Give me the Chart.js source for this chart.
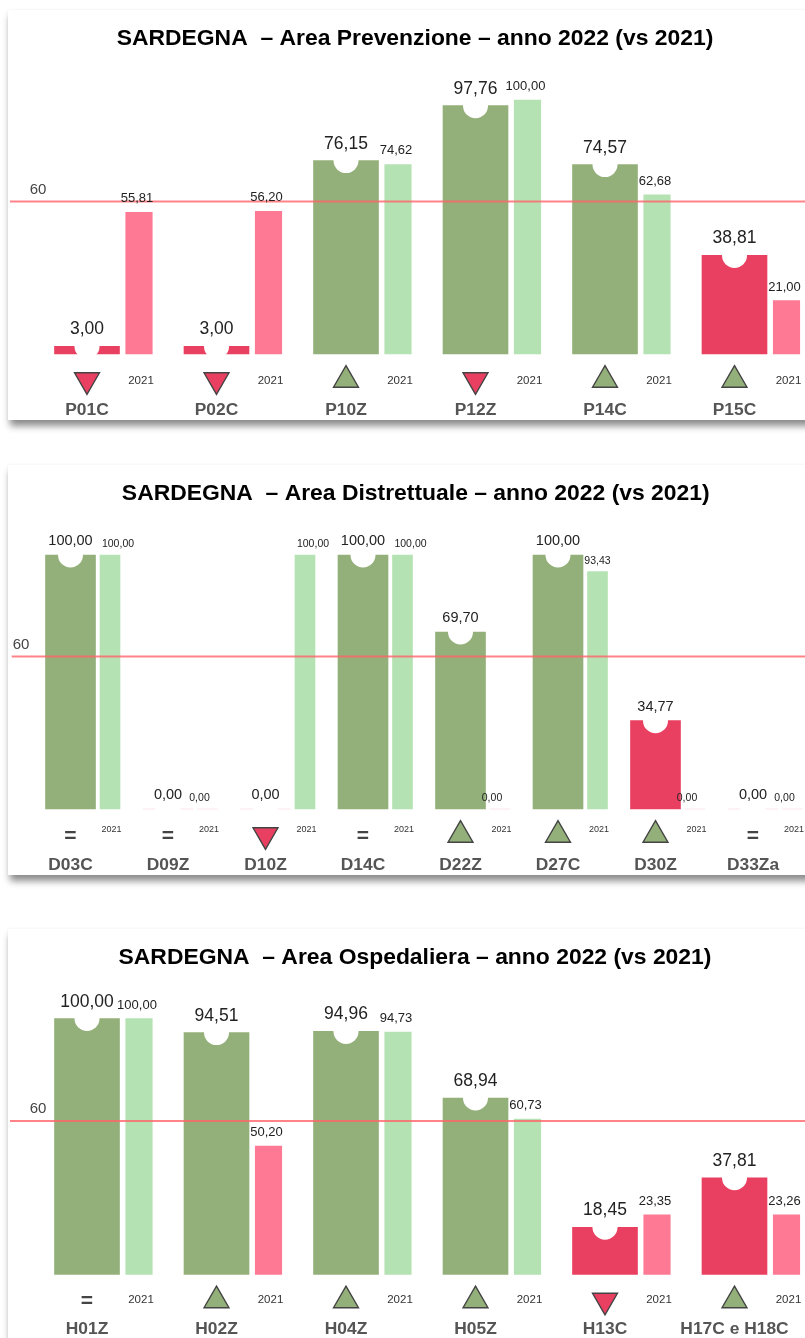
<!DOCTYPE html>
<html lang="it">
<head>
<meta charset="utf-8">
<title>SARDEGNA</title>
<script src="https://cdn.jsdelivr.net/npm/chart.js@4/dist/chart.umd.min.js"></script>
<style>
html,body{margin:0;padding:0;background:#fff;width:805px;height:1338px;overflow:hidden;}
.card{position:absolute;left:8px;width:812px;height:410px;background:#fff;box-shadow:2px 6px 7px rgba(0,0,0,.45),0 0 3px rgba(0,0,0,.04);}
canvas{display:block;}
</style>
</head>
<body>
<div class="card" style="top:10px"><canvas id="c1" width="812" height="410"></canvas></div>
<div class="card" style="top:465px"><canvas id="c2" width="812" height="410"></canvas></div>
<div class="card" style="top:929px"><canvas id="c3" width="812" height="410"></canvas></div>
<script>
const threshold = 60;
const thresholdLabel = "60";
const prevYearLabel = "2021";

const prevCategories = ["P01C","P02C","P10Z","P12Z","P14C","P15C"];
const prevValues2022 = [3.00,3.00,76.15,97.76,74.57,38.81];
const prevValues2021 = [55.81,56.20,74.62,100.00,62.68,21.00];
const prevTrend = ["down","down","up","down","up","up"];

const distCategories = ["D03C","D09Z","D10Z","D14C","D22Z","D27C","D30Z","D33Za"];
const distValues2022 = [100.00,0.00,0.00,100.00,69.70,100.00,34.77,0.00];
const distValues2021 = [100.00,0.00,100.00,100.00,0.00,93.43,0.00,0.00];
const distTrend = ["same","same","down","same","up","up","up","same"];

const ospCategories = ["H01Z","H02Z","H04Z","H05Z","H13C","H17C e H18C"];
const ospValues2022 = [100.00,94.51,94.96,68.94,18.45,37.81];
const ospValues2021 = [100.00,50.20,94.73,60.73,23.35,23.26];
const ospTrend = ["same","up","up","up","down","up"];

const FONT = '"Liberation Sans", Arial, sans-serif';
const GREEN = "#94B07A", LIGHT_GREEN = "#B5E2B2", RED = "#E94062", PINK = "#FE7994", FAINT = "rgba(233,64,98,.08)";
const fmt = v => v.toFixed(2).replace(".", ",");
const chartAreaTop = 50, chartAreaBottom = 389.6, markerRow = 370;

function buildPanel(id, cfg) {
  const xMin = (cfg.left - cfg.firstCenter) / cfg.spacing;
  const xMax = (812 - cfg.firstCenter) / cfg.spacing;
  const yMax = (cfg.base - chartAreaTop) / cfg.unit;
  const yMin = -(chartAreaBottom - cfg.base) / cfg.unit;
  const rowValue = -(cfg.markerY - cfg.base) / cfg.unit;
  const offset = cfg.prevOffset / cfg.spacing;

  const mainColor = v => v === 0 ? FAINT : (v >= threshold ? GREEN : RED);
  const prevColor = v => v === 0 ? FAINT : (v >= threshold ? LIGHT_GREEN : PINK);

  const annotate = {
    id: "annotate",
    afterDatasetsDraw(chart) {
      const { ctx, scales: { x, y } } = chart;
      ctx.save();
      ctx.textAlign = "center";
      ctx.textBaseline = "alphabetic";
      cfg.categories.forEach((_, i) => {
        const cx = x.getPixelForValue(i);
        ctx.fillStyle = "#222";
        ctx.font = cfg.mainFont + "px " + FONT;
        ctx.fillText(fmt(cfg.current[i]), cx, y.getPixelForValue(cfg.current[i]) - cfg.mainGap);

        const px = x.getPixelForValue(i + offset);
        ctx.font = cfg.prevFont + "px " + FONT;
        ctx.fillText(fmt(cfg.previous[i]), px + cfg.prevLabelDx(cfg.previous[i]), y.getPixelForValue(cfg.previous[i]) - cfg.prevGap);

        ctx.fillStyle = "#333";
        ctx.textBaseline = "middle";
        ctx.font = cfg.yearFont + "px " + FONT;
        ctx.fillText(prevYearLabel, cx + cfg.yearDx, cfg.yearY);

        if (cfg.trend[i] === "same") {
          ctx.fillStyle = "#444";
          ctx.font = "bold 21px " + FONT;
          ctx.fillText("=", cx, y.getPixelForValue(rowValue) + 1);
        }
        ctx.textBaseline = "alphabetic";
      });
      ctx.fillStyle = "#444";
      ctx.font = cfg.thresholdFont + "px " + FONT;
      ctx.fillText(thresholdLabel, cfg.thresholdX, y.getPixelForValue(threshold) - 8);
      ctx.restore();
    }
  };

  return new Chart(document.getElementById(id), {
    type: "bar",
    plugins: [annotate],
    data: {
      datasets: [
        { type: "line", order: 0, label: "Soglia",
          data: [{ x: xMin, y: threshold }, { x: xMax, y: threshold }],
          borderColor: "rgba(255,100,105,.8)", borderWidth: 2, pointRadius: 0, fill: false },
        { type: "scatter", order: 0, label: "Andamento",
          data: cfg.trend.map((_, i) => ({ x: i, y: rowValue })),
          pointStyle: "triangle",
          pointRadius: cfg.trend.map(t => t === "same" ? 0 : 14.4),
          pointRotation: cfg.trend.map(t => t === "down" ? 180 : 0),
          pointBackgroundColor: cfg.trend.map(t => t === "down" ? RED : GREEN),
          pointBorderColor: "#444", pointBorderWidth: 1.4 },
        { type: "scatter", order: 1, label: "Tacca",
          data: cfg.current.map((v, i) => ({ x: i, y: v })),
          pointStyle: "circle", pointRadius: 12.5,
          pointBackgroundColor: "#fff", pointBorderWidth: 0, clip: false },
        { order: 2, label: "2022", grouped: false, barThickness: cfg.mainWidth, minBarLength: 1,
          data: cfg.current.map((v, i) => ({ x: i, y: v })),
          backgroundColor: cfg.current.map(mainColor), borderWidth: 0 },
        { order: 2, label: "2021", grouped: false, barThickness: cfg.prevWidth, minBarLength: 1,
          data: cfg.previous.map((v, i) => ({ x: i + offset, y: v })),
          backgroundColor: cfg.previous.map(prevColor), borderWidth: 0 }
      ]
    },
    options: {
      responsive: false, animation: false, devicePixelRatio: 1,
      layout: { autoPadding: false, padding: { left: cfg.left, right: 0, top: 0, bottom: 0 } },
      plugins: {
        legend: { display: false }, tooltip: { enabled: false },
        title: { display: true, text: cfg.title, color: "#000",
          font: { family: FONT, size: 22.9, weight: "bold", lineHeight: 1.2 },
          padding: { top: 50 - 8 - 22.9 * 1.2, bottom: 8 } }
      },
      scales: {
        x: { type: "linear", min: xMin, max: xMax, offset: false,
          grid: { display: false, drawTicks: false, offset: false }, border: { display: false },
          afterBuildTicks: axis => { axis.ticks = cfg.categories.map((_, i) => ({ value: i })); },
          afterFit: axis => { axis.paddingLeft = 0; axis.paddingRight = 0; },
          ticks: { autoSkip: false, maxRotation: 0, minRotation: 0, padding: 0, color: "#555",
            font: { family: FONT, size: 17.4, weight: "bold", lineHeight: 20.4 / 17.4 },
            callback: v => cfg.categories[v] } },
        y: { display: false, min: yMin, max: yMax }
      }
    }
  });
}

buildPanel("c1", { title: "SARDEGNA  – Area Prevenzione – anno 2022 (vs 2021)",
  categories: prevCategories, current: prevValues2022, previous: prevValues2021, trend: prevTrend,
  left: 2, firstCenter: 79, spacing: 129.5, base: 344, unit: 2.54, markerY: markerRow,
  prevOffset: 52, mainWidth: 65, prevWidth: 26.5, mainFont: 17.5, prevFont: 13, mainGap: 12, prevGap: 10,
  prevLabelDx: () => -2, yearFont: 11.5, yearDx: 54, yearY: 370.5, thresholdFont: 15, thresholdX: 30 });

buildPanel("c2", { title: "SARDEGNA  – Area Distrettuale – anno 2022 (vs 2021)",
  categories: distCategories, current: distValues2022, previous: distValues2021, trend: distTrend,
  left: 3.5, firstCenter: 62.5, spacing: 97.5, base: 344, unit: 2.54, markerY: markerRow,
  prevOffset: 39.5, mainWidth: 50, prevWidth: 20, mainFont: 14.5, prevFont: 10.5, mainGap: 10, prevGap: 8,
  prevLabelDx: v => v === 100 ? 8 : (v === 0 ? -8 : 0), yearFont: 9, yearDx: 41, yearY: 364.5, thresholdFont: 15, thresholdX: 13 });

buildPanel("c3", { title: "SARDEGNA  – Area Ospedaliera – anno 2022 (vs 2021)",
  categories: ospCategories, current: ospValues2022, previous: ospValues2021, trend: ospTrend,
  left: 2, firstCenter: 79, spacing: 129.5, base: 345.5, unit: 2.56, markerY: markerRow + 1.5,
  prevOffset: 52, mainWidth: 65, prevWidth: 26.5, mainFont: 17.5, prevFont: 13, mainGap: 12, prevGap: 10,
  prevLabelDx: () => -2, yearFont: 11.5, yearDx: 54, yearY: 371, thresholdFont: 15, thresholdX: 30 });
</script>
</body>
</html>
